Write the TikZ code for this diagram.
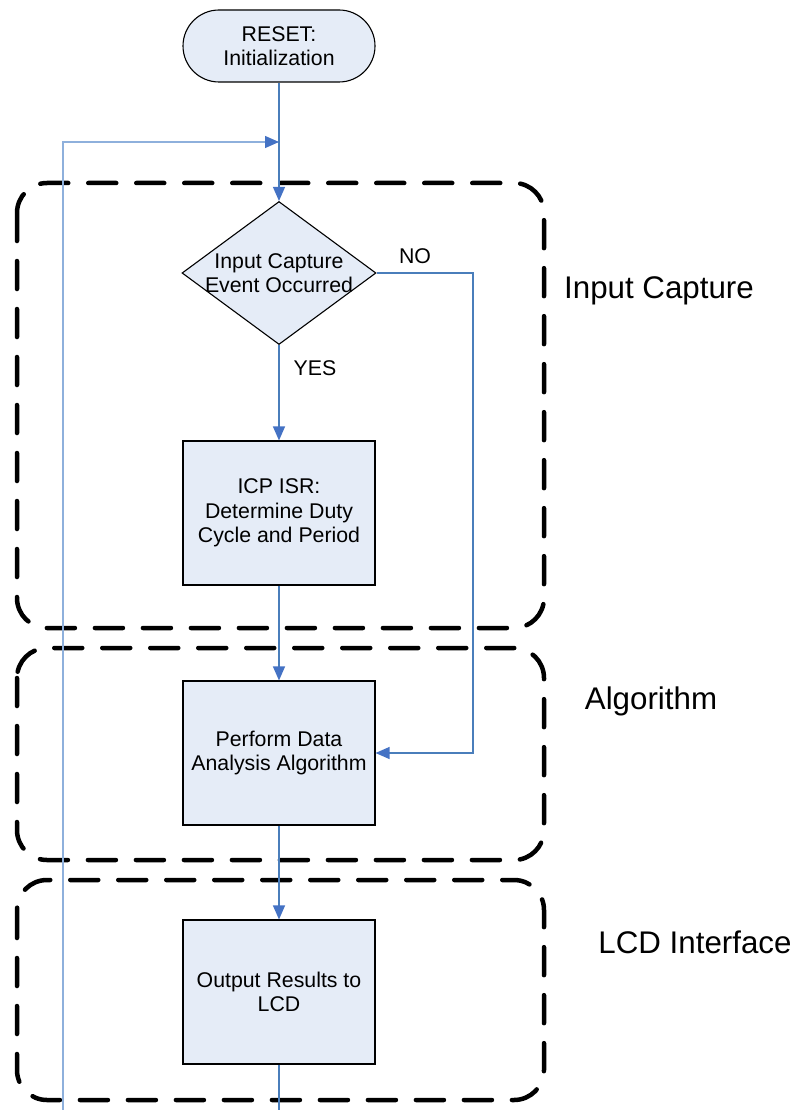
\documentclass[tikz,border=0pt]{standalone}
\usepackage{fontspec}
\setmainfont{Liberation Sans}
\usetikzlibrary{shapes.geometric,shapes.misc,arrows.meta}
\definecolor{boxfill}{HTML}{E5ECF7}
\definecolor{flow}{HTML}{4A7EBB}
\definecolor{loopc}{HTML}{8EB0DC}
\definecolor{tipc}{HTML}{4472C4}
\tikzset{
  proc/.style={draw=black, line width=1.1pt, fill=boxfill, minimum width=192pt, minimum height=144pt, inner sep=0pt, align=center, font=\fontsize{21.3}{24.5}\selectfont},
  term/.style={draw=black, line width=1.1pt, fill=boxfill, rounded rectangle, minimum width=192pt, minimum height=72pt, inner sep=0pt, align=center, font=\fontsize{21.3}{24.5}\selectfont},
  decide/.style={draw=black, line width=1.1pt, fill=boxfill, diamond, minimum width=194pt, minimum height=143pt, inner sep=0pt},
  lbl/.style={align=center, font=\fontsize{21.3}{24.5}\selectfont},
  section/.style={draw=black, line width=4.5pt, dash pattern=on 28pt off 20pt, line cap=round, rounded corners=30pt},
  secname/.style={font=\fontsize{31.3}{36}\selectfont},
  flowline/.style={draw=flow, line width=1.2pt},
  loopline/.style={draw=loopc, line width=1.2pt},
  tip/.style={-{Triangle[length=14pt,width=12pt,color=tipc]}}
}
\begin{document}
\begin{tikzpicture}[x=1pt,y=-1pt]
\useasboundingbox (0,0) rectangle (794,1110);

% dashed section frames
\draw[section] (17,183) rectangle (544,628);
\draw[section] (17,648) rectangle (544,860);
\draw[section] (17,880) rectangle (544,1100);
\node[secname] (secA) at (659,291) {Input Capture};
\node[secname] (secB) at (651,701) {Algorithm};
\node[secname] (secC) at (695,942) {LCD Interface};

% flow steps
\node[term] (reset) at (279,46) {RESET:\\Initialization};
\node[decide] (dec) at (279,273) {};
\node[lbl] (dectext) at (279,273) {Input Capture\\Event Occurred};
\node[proc] (icp) at (279,513) {ICP ISR:\\Determine Duty\\Cycle and Period};
\node[proc] (perf) at (279,753) {Perform Data\\Analysis Algorithm};
\node[proc] (lcd) at (279,992) {Output Results to\\LCD};

% helper points
\coordinate (join) at (279,142);
\coordinate (loopbot) at (63,1110);
\coordinate (exitbot) at (279,1110);
\coordinate (nocorner) at (473,273);
\coordinate (noback) at (473,753);

% connectors
\draw[loopline, tip] (loopbot) |- (join);
\draw[flowline, tip] (reset.south) -- (dec.north);
\draw[flowline, tip] (dec.south) -- (icp.north);
\draw[flowline, tip] (icp.south) -- (perf.north);
\draw[flowline, tip] (perf.south) -- (lcd.north);
\draw[flowline] (lcd.south) -- (exitbot);
\draw[flowline, tip] (dec.east) -- (nocorner) -- (noback) -- (perf.east);

% branch labels
\node[lbl] (yes) at (315,368) {YES};
\node[lbl] (no) at (415,256) {NO};
\end{tikzpicture}
\end{document}
